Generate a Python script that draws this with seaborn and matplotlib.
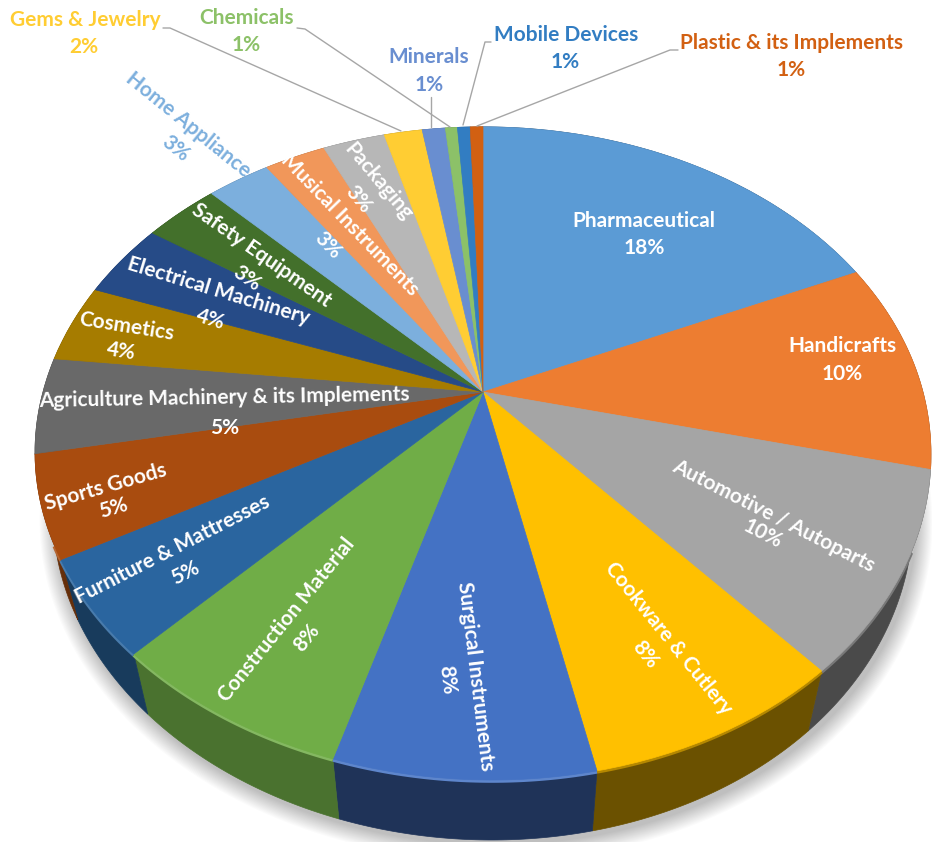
import numpy as np
import matplotlib
matplotlib.use('Agg')
import matplotlib.pyplot as plt
from matplotlib.transforms import Transform
import seaborn as sns

# slices, clockwise from 12 o'clock
categories = ['Pharmaceutical', 'Handicrafts', 'Automotive / Autoparts', 'Cookware & Cutlery',
              'Surgical Instruments', 'Construction Material', 'Furniture & Mattresses',
              'Sports Goods', 'Agriculture Machinery & its Implements', 'Cosmetics',
              'Electrical Machinery', 'Safety Equipment', 'Home Appliance', 'Musical Instruments',
              'Packaging', 'Gems & Jewelry', 'Minerals', 'Chemicals', 'Mobile Devices',
              'Plastic & its Implements']
values = [18.3, 10.4, 9.8, 8.1, 7.9, 7.5, 4.8, 5.1, 4.8, 3.9, 3.8, 3.25, 2.73, 2.65, 2.68,
          1.65, 1.0, 0.52, 0.55, 0.55]
percent_labels = ['18%', '10%', '10%', '8%', '8%', '8%', '5%', '5%', '5%', '4%', '4%', '3%', '3%',
                  '3%', '3%', '2%', '1%', '1%', '1%', '1%']

colors = ['#5B9BD5', '#ED7D31', '#A5A5A5', '#FFC000', '#4472C4', '#70AD47', '#2A659F', '#A94C0F',
          '#696969', '#A67C00', '#264B87', '#43702B', '#7CAFDD', '#F1975A', '#B7B7B7', '#FFCD33',
          '#698ED0', '#8CC168', '#327DC2', '#D26012']
# how dark the side wall gets for each slice
wall_shade = [0.5, 0.5, 0.45, 0.42, 0.45, 0.66, 0.58, 0.6, 0.6, 0.6, 0.6, 0.6, 0.6, 0.6, 0.6, 0.6,
              0.6, 0.6, 0.6, 0.6]

# label placement in pixels: name x, y, angle, percent x, y, angle
label_pos = [
    (644, 221, 0, 644, 248, 0),
    (842, 346, 0, 842, 374, 0),
    (774, 516, -27, 763, 534, -27),
    (668, 638, -51, 645, 655, -51),
    (476, 676, -83, 447, 680, -83),
    (287, 620, 51, 307, 638, 51),
    (172, 550, 27, 185, 573, 27),
    (106, 487, 16, 113, 508, 16),
    (224, 398, 1, 225, 428, 0),
    (127, 327, -9, 121, 351, -9),
    (219, 291, -17, 211, 320, -17),
    (261, 255, -35, 247, 278, -35),
    (188, 125, -39, 175, 149, -39),
    (350, 225, -46, 328, 245, -46),
    (378, 182, -50, 358, 199, -50),
    (85, 20, 0, 84, 47, 0),
    (429, 57, 0, 429, 85, 0),
    (246, 18, 0, 246, 45, 0),
    (566, 35, 0, 565, 62, 0),
    (791, 43, 0, 791, 70, 0),
]
outside = {'Gems & Jewelry', 'Chemicals', 'Minerals', 'Mobile Devices', 'Plastic & its Implements',
           'Home Appliance'}

# leader lines from the outside labels
leaders = [
    [(163, 28), (170, 28), (401, 131)],
    [(297, 28), (305, 29), (450, 127)],
    [(431, 97), (431, 127)],
    [(491, 42), (485, 42), (463, 125)],
    [(678, 50), (670, 50), (477, 126)],
]

# perspective of the pie disc on the picture
CX, CY = 483, 392
A, B, P = 440, 315, 0.188
TILT = 0.015  # front edge sits a little lower on the right
WALL_SCALE, WALL_DROP = 0.96, 60


class DiscToPixels(Transform):
    input_dims = 2
    output_dims = 2

    def transform_non_affine(self, xy):
        xy = np.asarray(xy)
        w = 1 + P * xy[:, 1]
        dx = A * xy[:, 0] / w
        return np.column_stack([CX + dx,
                                CY - B * xy[:, 1] / w + TILT * dx * np.clip(-xy[:, 1], 0, 1)])


def rim(theta1, theta2, n=60):
    t = np.radians(np.linspace(theta1, theta2, n))
    return DiscToPixels().transform_non_affine(np.column_stack([np.cos(t), np.sin(t)]))


def lower(pts):
    return np.column_stack([CX + WALL_SCALE * (pts[:, 0] - CX), pts[:, 1] + WALL_DROP])


sns.set_theme(style='white')
plt.rcParams['font.family'] = ['Lato', 'DejaVu Sans']
palette = sns.color_palette(colors)

fig, ax = plt.subplots(figsize=(9.32, 8.42), dpi=100)
fig.subplots_adjust(0, 0, 1, 1)

wedges, _ = ax.pie(values, colors=palette, startangle=90, counterclock=False,
                   wedgeprops=dict(linewidth=0.5))
ax.set_aspect('auto')
ax.set_xlim(0, 932)
ax.set_ylim(842, 0)
ax.axis('off')

disc = DiscToPixels() + ax.transData
for wedge, color in zip(wedges, palette):
    wedge.set_transform(disc)
    wedge.set_edgecolor(color)
    wedge.set_zorder(3)

# soft shadow under the pie
outline = lower(rim(0, 360, 240))
for grow in range(16, 0, -1):
    ax.fill(CX + 3 + (outline[:, 0] - CX) * (1 + grow / 420),
            CY + 4 + (outline[:, 1] - CY) * (1 + grow / 420),
            color='black', alpha=0.016, lw=0, zorder=1)

# side wall and the soft edge along the front of the disc
for i, wedge in enumerate(wedges):
    top = rim(wedge.theta1, wedge.theta2)
    bottom = lower(top)
    base = np.array(palette[i])
    wall = base * wall_shade[i]
    poly = np.vstack([top, bottom[::-1]])
    ax.fill(poly[:, 0], poly[:, 1], color=wall, edgecolor=wall, lw=0.5, zorder=2)
    if i in (4, 5, 6, 7):
        edge = base + (1 - base) * 0.14
    else:
        edge = (base + wall) / 2
    front = np.sin(np.radians(np.linspace(wedge.theta1, wedge.theta2, 60))) < -0.45
    if front.any():
        ax.plot(top[front, 0], top[front, 1] + 1, color=edge, lw=2.6, solid_capstyle='butt', zorder=2.5)

for points in leaders:
    xs, ys = zip(*points)
    ax.plot(xs, ys, color='#A6A6A6', lw=1, zorder=4)

for i, name in enumerate(categories):
    nx, ny, nr, px, py, pr = label_pos[i]
    color = palette[i] if name in outside else 'white'
    ax.text(nx, ny, name, color=color, fontsize=15, fontweight='bold', ha='center', va='center',
            rotation=nr, rotation_mode='anchor', zorder=5)
    ax.text(px, py, percent_labels[i], color=color, fontsize=15, fontweight='bold', ha='center',
            va='center', rotation=pr, rotation_mode='anchor', zorder=5)

fig.savefig('out.png', dpi=100)
